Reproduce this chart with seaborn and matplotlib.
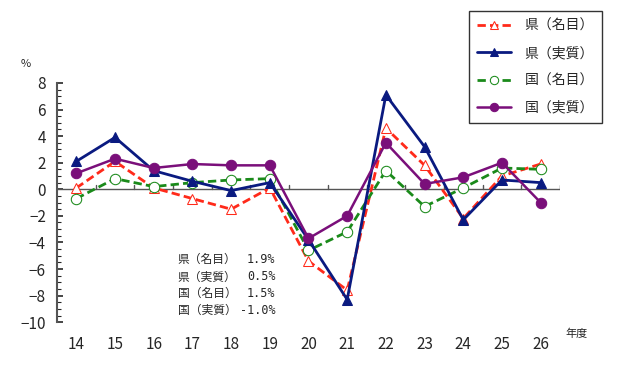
import matplotlib
matplotlib.use('Agg')
import matplotlib.pyplot as plt
from matplotlib.ticker import MultipleLocator
import seaborn as sns
import pandas as pd

years = ['14', '15', '16', '17', '18', '19', '20', '21', '22', '23', '24', '25', '26']
ken_nominal = [0.1, 2.1, 0.1, -0.7, -1.5, 0.1, -5.4, -7.6, 4.6, 1.8, -2.2, 1.0, 1.9]
ken_real = [2.1, 3.9, 1.4, 0.6, -0.1, 0.5, -3.8, -8.3, 7.1, 3.2, -2.3, 0.7, 0.5]
kuni_nominal = [-0.7, 0.8, 0.2, 0.5, 0.7, 0.8, -4.6, -3.2, 1.4, -1.3, 0.1, 1.6, 1.5]
kuni_real = [1.2, 2.3, 1.6, 1.9, 1.8, 1.8, -3.7, -2.0, 3.5, 0.4, 0.9, 2.0, -1.0]

series_names = ['県（名目）', '県（実質）', '国（名目）', '国（実質）']
latest_labels = ['1.9%', '0.5%', '1.5%', '-1.0%']

sns.set_style('white')
plt.rcParams['font.family'] = ['Noto Sans CJK JP', 'DejaVu Sans']

df = pd.DataFrame({
    'pos': list(range(len(years))),
    series_names[0]: ken_nominal,
    series_names[1]: ken_real,
    series_names[2]: kuni_nominal,
    series_names[3]: kuni_real,
})

fig = plt.figure(figsize=(6.31, 3.84), dpi=100)
ax = fig.add_axes([0.0903, 0.161, 0.7972, 0.623])

styles = {
    series_names[0]: dict(color='#ff2a1a', linestyle=(0, (3, 1.5)), marker='^', mfc='white', ms=6.5, lw=2.0, zorder=3),
    series_names[1]: dict(color='#0a1a80', linestyle='-', marker='^', mfc='#0a1a80', ms=6.5, lw=2.0, zorder=5),
    series_names[2]: dict(color='#1a8a1a', linestyle=(0, (3, 1.5)), marker='o', mfc='white', ms=7.5, lw=2.0, zorder=4),
    series_names[3]: dict(color='#7a0f7a', linestyle='-', marker='o', mfc='#7a0f7a', ms=7.5, lw=1.8, zorder=6),
}

for name in series_names:
    st = styles[name]
    sns.lineplot(data=df, x='pos', y=name, ax=ax, color=st['color'], linestyle=st['linestyle'],
                 marker=st['marker'], markerfacecolor=st['mfc'], markeredgecolor=st['color'],
                 markersize=st['ms'], linewidth=st['lw'], label=name, zorder=st['zorder'])

ax.set_xlim(-0.5, len(years) - 0.5)
ax.set_ylim(-10, 8)
ax.set_xlabel('')
ax.set_ylabel('')

for s in ['top', 'right', 'bottom']:
    ax.spines[s].set_visible(False)
ax.spines['left'].set_color('#555555')
ax.spines['left'].set_linewidth(1.5)

ax.axhline(0, color='#555555', lw=1.0, zorder=1)
for b in range(1, len(years) + 1):
    ax.plot([b - 0.5, b - 0.5], [0, 0.3], color='#555555', lw=1.0, zorder=1)

ax.yaxis.set_major_locator(MultipleLocator(2))
ax.yaxis.set_minor_locator(MultipleLocator(0.5))
ax.tick_params(axis='y', which='both', direction='in', left=True, labelsize=11, pad=8)
ax.tick_params(axis='y', which='major', length=4, width=1.2)
ax.tick_params(axis='y', which='minor', length=3, width=0.8)
ax.set_xticks(range(len(years)))
ax.set_xticklabels(years, fontsize=11)
ax.tick_params(axis='x', length=0, pad=10)

ax.text(-0.052, 1.08, '%', transform=ax.transAxes, fontsize=8, ha='right', va='center')
ax.text(len(years) - 0.35, -10.9, '年度', fontsize=8, ha='left', va='center')

text_y = [-5.3, -6.6, -7.85, -9.1]
for name, val, y in zip(series_names, latest_labels, text_y):
    ax.text(2.62, y, name, fontsize=8.5, ha='left', va='center')
    ax.text(5.15, y, val, fontsize=8.5, ha='right', va='center', family='DejaVu Sans Mono')

leg = ax.legend(loc='upper left', bbox_to_anchor=(0.732, 0.99), bbox_transform=fig.transFigure,
                fontsize=10, frameon=True, fancybox=False, handlelength=2.4, labelspacing=0.95,
                borderpad=0.6, handletextpad=1.0, edgecolor='black', markerscale=0.8)
leg.get_frame().set_linewidth(1.0)

fig.savefig('out.png', dpi=100)
